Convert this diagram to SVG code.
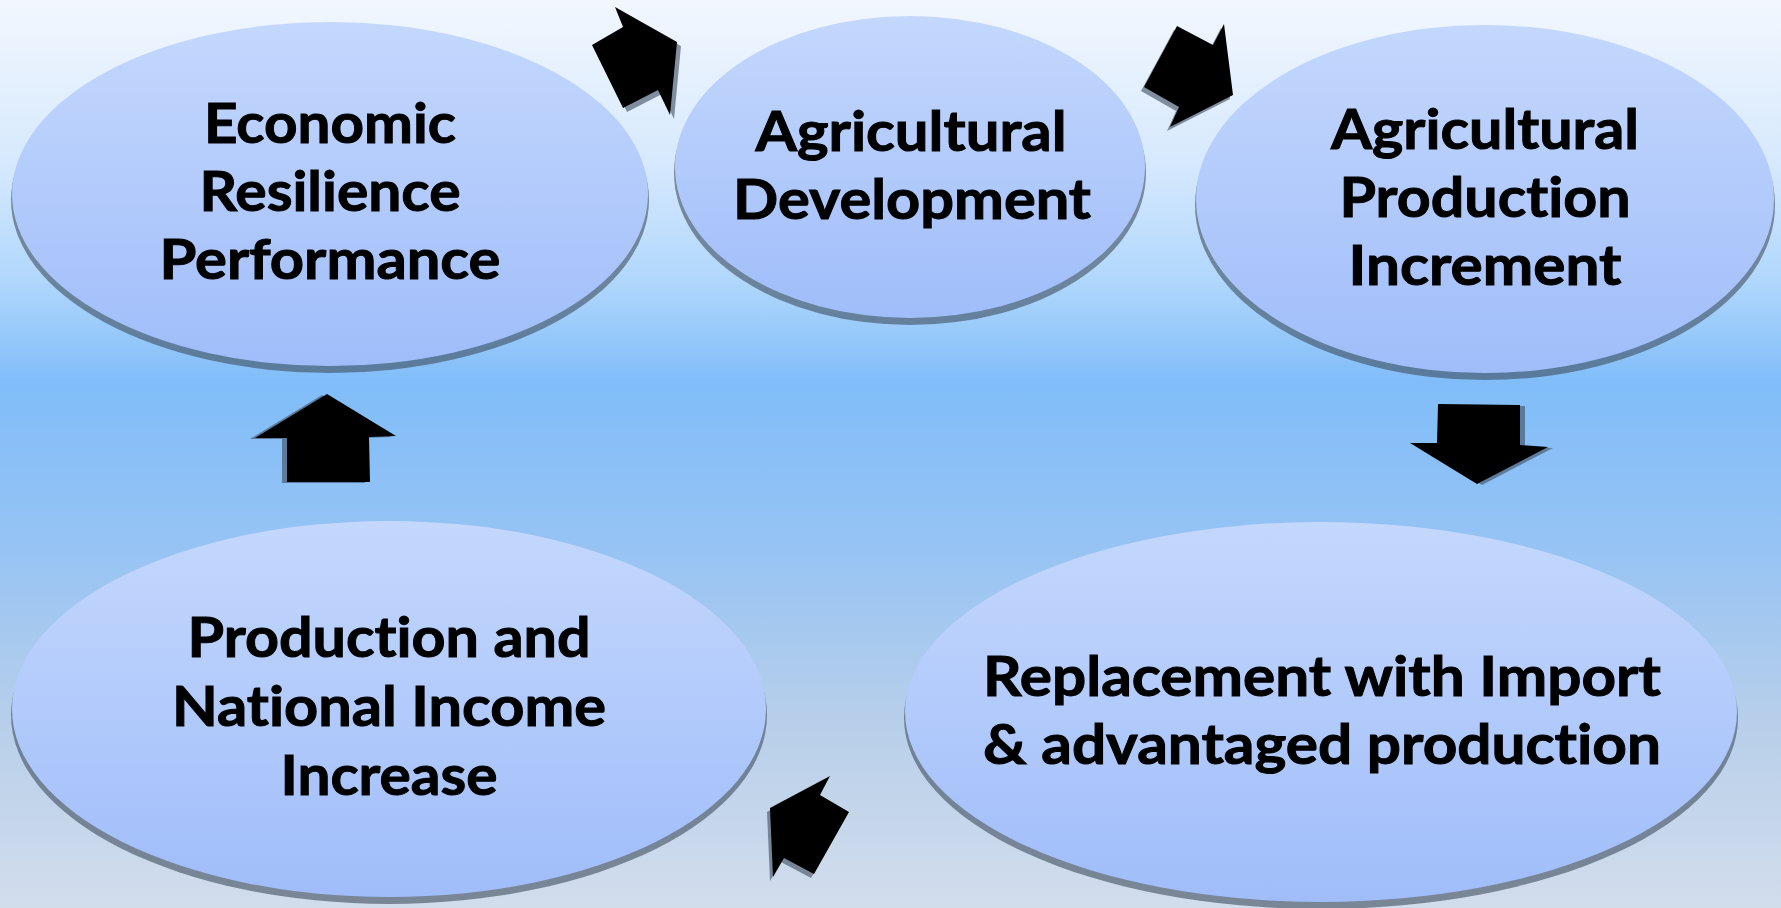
<svg xmlns="http://www.w3.org/2000/svg" width="1781" height="908" viewBox="0 0 1781 908">
<defs>
<linearGradient id="bg" x1="0" y1="0" x2="0" y2="1">
<stop offset="0" stop-color="#f2f7fe"/>
<stop offset="0.18" stop-color="#d6e9fd"/>
<stop offset="0.31" stop-color="#b0d7fc"/>
<stop offset="0.42" stop-color="#80bdf9"/>
<stop offset="0.6" stop-color="#96c3f4"/>
<stop offset="0.8" stop-color="#b8cfea"/>
<stop offset="1" stop-color="#d2ddec"/>
</linearGradient>
<linearGradient id="ell" x1="0" y1="0" x2="0" y2="1">
<stop offset="0" stop-color="#c4d8fd"/>
<stop offset="1" stop-color="#a0bdfa"/>
</linearGradient>
<style>
.node ellipse.body{fill:url(#ell);}
.node ellipse.sh{fill:#3e4c5e;fill-opacity:0.6;}
.node text{font-family:Lato,"Open Sans","Liberation Sans",sans-serif;font-weight:bold;font-size:56px;fill:#000;stroke:#000;stroke-width:1;text-anchor:middle;font-variant-ligatures:none;font-feature-settings:"liga" 0,"dlig" 0;}
.arr{fill:#000;}
.ash{fill:#3e4c5e;fill-opacity:0.6;}
</style>
</defs>
<rect x="0" y="0" width="1781" height="908" fill="url(#bg)"/>

<g id="node-economic" class="node">
<ellipse class="sh" cx="330" cy="200" rx="319" ry="173"/>
<ellipse class="body" cx="330" cy="194" rx="318" ry="172"/>
<text x="330" y="143" textLength="252" lengthAdjust="spacingAndGlyphs">Economic</text>
<text x="330" y="211" textLength="261" lengthAdjust="spacingAndGlyphs">Resilience</text>
<text x="330" y="279" textLength="341" lengthAdjust="spacingAndGlyphs">Performance</text>
</g>

<g id="node-agri-dev" class="node">
<ellipse class="sh" cx="910" cy="173" rx="236" ry="152"/>
<ellipse class="body" cx="910" cy="167" rx="235" ry="151"/>
<text x="911" y="151" textLength="311" lengthAdjust="spacingAndGlyphs">Agricultural</text>
<text x="912" y="219" textLength="358" lengthAdjust="spacingAndGlyphs">Development</text>
</g>

<g id="node-agri-prod" class="node">
<ellipse class="sh" cx="1485" cy="205" rx="290" ry="175"/>
<ellipse class="body" cx="1485" cy="199" rx="289" ry="174"/>
<text x="1485" y="149" textLength="308" lengthAdjust="spacingAndGlyphs">Agricultural</text>
<text x="1485" y="217" textLength="291" lengthAdjust="spacingAndGlyphs">Production</text>
<text x="1485" y="285" textLength="273" lengthAdjust="spacingAndGlyphs">Increment</text>
</g>

<g id="node-replacement" class="node">
<ellipse class="sh" cx="1321" cy="718" rx="417" ry="191"/>
<ellipse class="body" cx="1321" cy="712" rx="416" ry="190"/>
<text x="1322" y="696" textLength="678" lengthAdjust="spacingAndGlyphs">Replacement with Import</text>
<text x="1322" y="764" textLength="678" lengthAdjust="spacingAndGlyphs">&amp; advantaged production</text>
</g>

<g id="node-national-income" class="node">
<ellipse class="sh" cx="389" cy="715" rx="378" ry="189"/>
<ellipse class="body" cx="389" cy="709" rx="377" ry="188"/>
<text x="389" y="657" textLength="403" lengthAdjust="spacingAndGlyphs">Production and</text>
<text x="389" y="726" textLength="434" lengthAdjust="spacingAndGlyphs">National Income</text>
<text x="389" y="795" textLength="217" lengthAdjust="spacingAndGlyphs">Increase</text>
</g>

<g id="connectors">
<g id="arrow-1">
<polygon class="ash" transform="translate(4,4)" points="615,7 623,27 592,45 623,108 658,90 670,115 677,42"/>
<polygon class="arr" points="615,7 623,27 592,45 623,108 658,90 670,115 677,42"/>
</g>
<g id="arrow-2">
<polygon class="ash" transform="translate(-3,4)" points="1144,87 1177,26 1213,45 1224,24 1233,95 1170,127 1179,107"/>
<polygon class="arr" points="1144,87 1177,26 1213,45 1224,24 1233,95 1170,127 1179,107"/>
</g>
<g id="arrow-3">
<polygon class="ash" transform="translate(5,1)" points="1438,404 1520,405 1520,445 1548,447 1477,484 1410,443 1437,443"/>
<polygon class="arr" points="1438,404 1520,405 1520,445 1548,447 1477,484 1410,443 1437,443"/>
</g>
<g id="arrow-4">
<polygon class="ash" transform="translate(-5,1)" points="327,394 396,436 369,437 370,482 287,482 287,438 255,438"/>
<polygon class="arr" points="327,394 396,436 369,437 370,482 287,482 287,438 255,438"/>
</g>
<g id="arrow-5">
<polygon class="ash" transform="translate(-3,4)" points="830,776 820,795 849,812 814,874 784,858 773,877 770,808"/>
<polygon class="arr" points="830,776 820,795 849,812 814,874 784,858 773,877 770,808"/>
</g>
</g>
</svg>
